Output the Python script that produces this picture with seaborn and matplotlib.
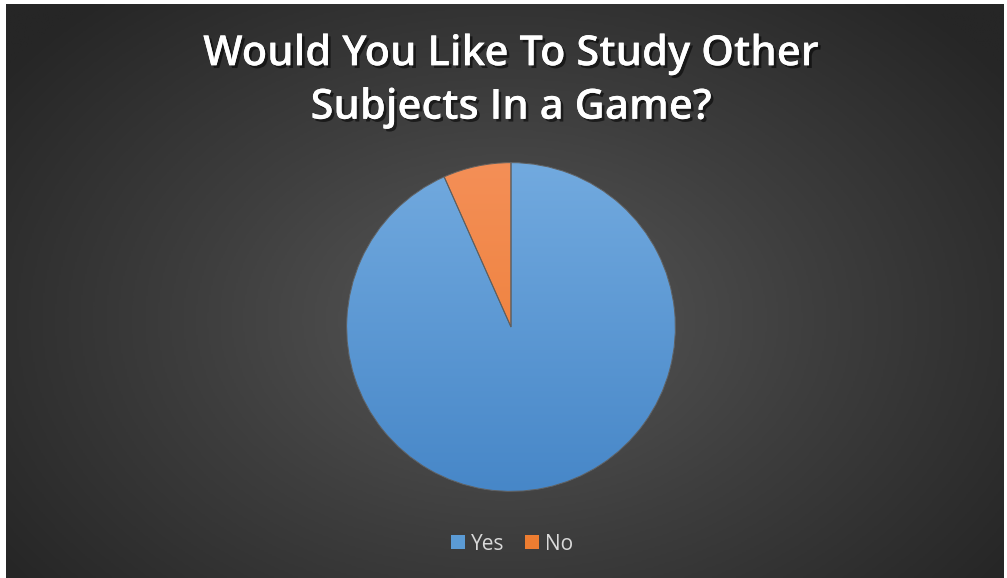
import numpy as np
import matplotlib
matplotlib.use("Agg")
import matplotlib.pyplot as plt
import matplotlib.patheffects as pe
from matplotlib.colors import LinearSegmentedColormap
from matplotlib.patches import Wedge, Patch
import seaborn as sns

# Survey answers
answers = ["Yes", "No"]
counts = [14, 1]
title = "Would You Like To Study Other\nSubjects In a Game?"

top_colors = ["#72aadf", "#f48f57"]
bottom_colors = ["#4787c8", "#ec7a2e"]

sns.set_style("dark")
plt.rcParams["font.family"] = ["Open Sans", "DejaVu Sans"]

W, H = 1007, 578
fig = plt.figure(figsize=(W / 100, H / 100), dpi=100)
fig.patch.set_facecolor("white")

# Dark panel with a soft radial glow
bg = fig.add_axes([6 / W, 0, (1004 - 6) / W, (H - 4) / H])
bg.set_axis_off()
yy, xx = np.mgrid[0:1:300j, 0:1:520j]
r = np.sqrt(((xx - 0.5) / 0.62) ** 2 + ((yy - 0.55) / 0.75) ** 2)
glow = np.clip(r, 0, 1)
bg_cmap = LinearSegmentedColormap.from_list("bg", ["#585858", "#3e3e3e", "#262626"])
bg.imshow(glow, cmap=bg_cmap, aspect="auto", extent=[0, 1, 0, 1],
          interpolation="bilinear", vmin=0, vmax=1)
bg.set_xlim(0, 1)
bg.set_ylim(0, 1)

# Pie axes: centre (511, 327) px, radius 166 px
cx, cy, rad = 511, 327, 166
ax = fig.add_axes([(cx - rad) / W, (H - cy - rad) / H, 2 * rad / W, 2 * rad / H])
ax.set_facecolor("none")
wedges, _ = ax.pie(counts, startangle=90, counterclock=False, radius=1.0,
                   colors=top_colors,
                   wedgeprops=dict(edgecolor="none", linewidth=0))

# Vertical shading inside each slice
grad = np.linspace(0, 1, 256).reshape(-1, 1)
for w, c_top, c_bot in zip(wedges, top_colors, bottom_colors):
    cm = LinearSegmentedColormap.from_list("s", [c_bot, c_top])
    im = ax.imshow(grad, cmap=cm, origin="lower", extent=[-1, 1, -1, 1],
                   aspect="auto", zorder=w.get_zorder() + 0.1, interpolation="bilinear")
    im.set_clip_path(w)
    edge = Wedge(w.center, w.r, w.theta1, w.theta2, facecolor="none",
                 edgecolor="#5f5f5f", linewidth=0.7, zorder=w.get_zorder() + 0.2)
    ax.add_patch(edge)
ax.set_xlim(-1.01, 1.01)
ax.set_ylim(-1.01, 1.01)
ax.set_aspect("equal")
ax.set_axis_off()

# Title with drop shadow
fig.text(511 / W, 1 - 81 / H, title, ha="center", va="center", color="white",
         fontsize=30, fontweight="semibold", linespacing=1.36,
         path_effects=[pe.withSimplePatchShadow(offset=(2, -2), shadow_rgbFace="black", alpha=0.55),
                       pe.Normal()])

# Legend
handles = [Patch(facecolor=c, edgecolor="none") for c in ["#5b9bd5", "#ed7d31"]]
fig.legend(handles, answers, loc="center", bbox_to_anchor=(512 / W, 1 - 544 / H),
           ncol=2, frameon=False, fontsize=15, handlelength=0.65, handleheight=0.65,
           handletextpad=0.3, columnspacing=1.0, labelcolor="#d9d9d9")

fig.savefig("out.png", dpi=100, facecolor=fig.get_facecolor())
